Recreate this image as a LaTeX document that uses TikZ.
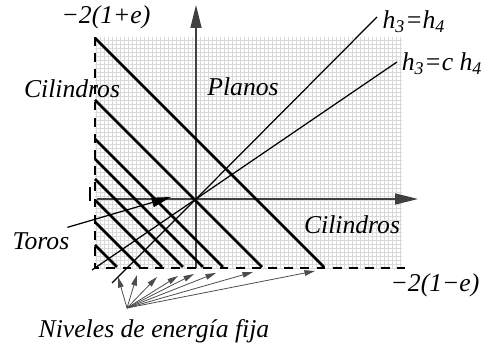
\documentclass[tikz,border=0pt]{standalone}
\usepackage{fontspec}
\setmainfont{Liberation Serif}
\usetikzlibrary{arrows.meta,calc}

\begin{document}
\begin{tikzpicture}[x=0.02cm, y=-0.02cm,
  font=\fontsize{14.6}{17}\selectfont\itshape,
  lbl/.style={inner sep=1pt},
  gridln/.style={draw=black!15, line width=0.35pt},
  bound/.style={line width=1.4pt, dash pattern=on 5pt off 4.2pt},
  level/.style={line width=1.5pt},
  axis/.style={draw=black!75, line width=0.8pt, -{Triangle[length=13pt, width=6.2pt]}},
  ray/.style={line width=0.7pt},
  arr/.style={line width=0.7pt, -{Triangle[length=11pt, width=5.4pt]}},
  fanarr/.style={draw=black!70, line width=0.45pt, -{Triangle[length=6pt, width=3.2pt]}}]
  \useasboundingbox (0,0) rectangle (483,350);
  % region of allowed energies
  \draw[gridln, step=0.08cm] (95,37) grid (402,268);
  \coordinate (o) at (196,199);
  \draw[axis] (196,268) -- (196,5);
  \draw[axis] (97,199) -- (418,199);
  \draw[line width=0.8pt] (90,187) -- (90,201);
  % fixed energy levels
  \foreach \y in {38,100,139,159,179,200,222,245}
    \draw[level] (95,\y) -- ({362-\y},267);
  \draw[bound] (95,37) -- (95,268) -- (405,268);
  % h3 = h4 and h3 = c h4
  \draw[ray] (112,283) -- (o) -- (377,17);
  \draw[ray] (92,270) -- (o) -- (397,62);
  \node[lbl] (ylab) at (106,17) {−2(1+e)};
  \node[lbl] (xlab) at (435,285) {−2(1−e)};
  \node[lbl] (cilL) at (72,89) {Cilindros};
  \node[lbl] (planos) at (243,87) {Planos};
  \node[lbl] (cilR) at (352,225) {Cilindros};
  \node[lbl] (hA) at (414,22) {h\textsubscript{3}=h\textsubscript{4}};
  \node[lbl] (hB) at (442,64) {h\textsubscript{3}=c h\textsubscript{4}};
  \node[lbl] (toros) at (41,241) {Toros};
  \node[lbl] (niv) at (154,331) {Niveles de energía fija};
  \coordinate (fan) at (127,308);
  \draw[arr] ($(toros.north east)+(-4,-3)$) -- (171,197);
  \foreach \tx/\ty in {118/277,137/275,157/277,178/276,194/274,216/273,253/272,315/271}
    \draw[fanarr] (fan) -- (\tx,\ty);
\end{tikzpicture}
\end{document}
